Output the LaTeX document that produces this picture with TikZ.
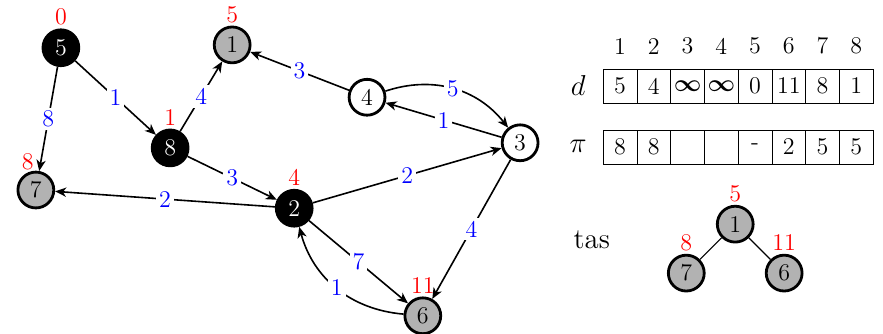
\documentclass[tikz,border=0pt]{standalone}
\usepackage{amsmath}
\usepackage{amssymb}
\usepackage{xcolor}
\usepackage{tikz}
\usetikzlibrary{arrows.meta}

\begin{document}
\begin{tikzpicture}[>={Stealth[length=5.5pt, width=4.6pt, inset=1.6pt]},
    sommet/.style={circle, draw, line width=1.4pt, minimum size=0.63cm, inner sep=0pt, font=\large},
    vu/.style={sommet, fill=black, text=white},
    tasse/.style={sommet, fill=gray!60},
    libre/.style={sommet, fill=white},
    every label/.style={red, font=\large, label distance=-2pt},
    poids/.style={midway, fill=white, text=blue, inner sep=1.5pt, font=\large},
    arc/.style={->, thick},
    cellule/.style={draw, minimum width=0.593cm, minimum height=0.6cm, inner sep=0pt, font=\large}]
  \useasboundingbox (0,0) rectangle (15.517,5.869);
  % the graph
  \node[vu, label=above:0] (s5) at (1.07,5.03) {5};
  \node[tasse, label=above:5] (s1) at (4.08,5.08) {1};
  \node[vu, label=above:1] (s8) at (2.99,3.27) {8};
  \node[tasse, label={[xshift=-4pt, yshift=-1pt]above:8}] (s7) at (0.63,2.53) {7};
  \node[vu, label=above:4] (s2) at (5.17,2.21) {2};
  \node[libre] (s4) at (6.45,4.16) {4};
  \node[libre] (s3) at (9.14,3.36) {3};
  \node[tasse, label=above:11] (s6) at (7.43,0.32) {6};
  % the arcs
  \draw[arc] (s5) -- node[poids] {1} (s8);
  \draw[arc] (s5) -- node[poids] {8} (s7);
  \draw[arc] (s8) -- node[poids] {4} (s1);
  \draw[arc] (s4) -- node[poids] {3} (s1);
  \draw[arc] (s8) -- node[poids] {3} (s2);
  \draw[arc] (s2) -- node[poids] {2} (s7);
  \draw[arc] (s2) -- node[poids] {2} (s3);
  \draw[arc] (s4) to[bend left=35] node[poids] {5} (s3);
  \draw[arc] (s3) -- node[poids] {1} (s4);
  \draw[arc] (s3) -- node[poids] {4} (s6);
  \draw[arc] (s2) -- node[poids] {7} (s6);
  \draw[arc] (s6) to[bend left=35] node[poids] {1} (s2);
  % the arrays
  \node (dlab) at (10.16,4.36) {\Large $d$};
  \node (plab) at (10.16,3.29) {\Large $\pi$};
  \foreach \i in {1,...,8}
    \node[font=\large] (c\i) at ({10.3035+0.593*\i},5.06) {\i};
  \foreach \i/\v in {1/5, 2/4, 3/{$\boldsymbol{\infty}$}, 4/{$\boldsymbol{\infty}$}, 5/0, 6/11, 7/8, 8/1}
    \node[cellule] (d\i) at ({10.3035+0.593*\i},4.358) {\v};
  \foreach \i/\v in {1/8, 2/8, 3/{}, 4/{}, 5/-, 6/2, 7/5, 8/5}
    \node[cellule] (p\i) at ({10.3035+0.593*\i},3.286) {\v};
  % the heap
  \node (tas) at (10.40,1.65) {\Large tas};
  \node[tasse, label=above:5] (t1) at (12.92,1.93) {1};
  \node[tasse, label=above:8] (t7) at (12.06,1.07) {7};
  \node[tasse, label=above:11] (t6) at (13.78,1.07) {6};
  \draw[semithick] (t1) -- (t7);
  \draw[semithick] (t1) -- (t6);
\end{tikzpicture}
\end{document}
